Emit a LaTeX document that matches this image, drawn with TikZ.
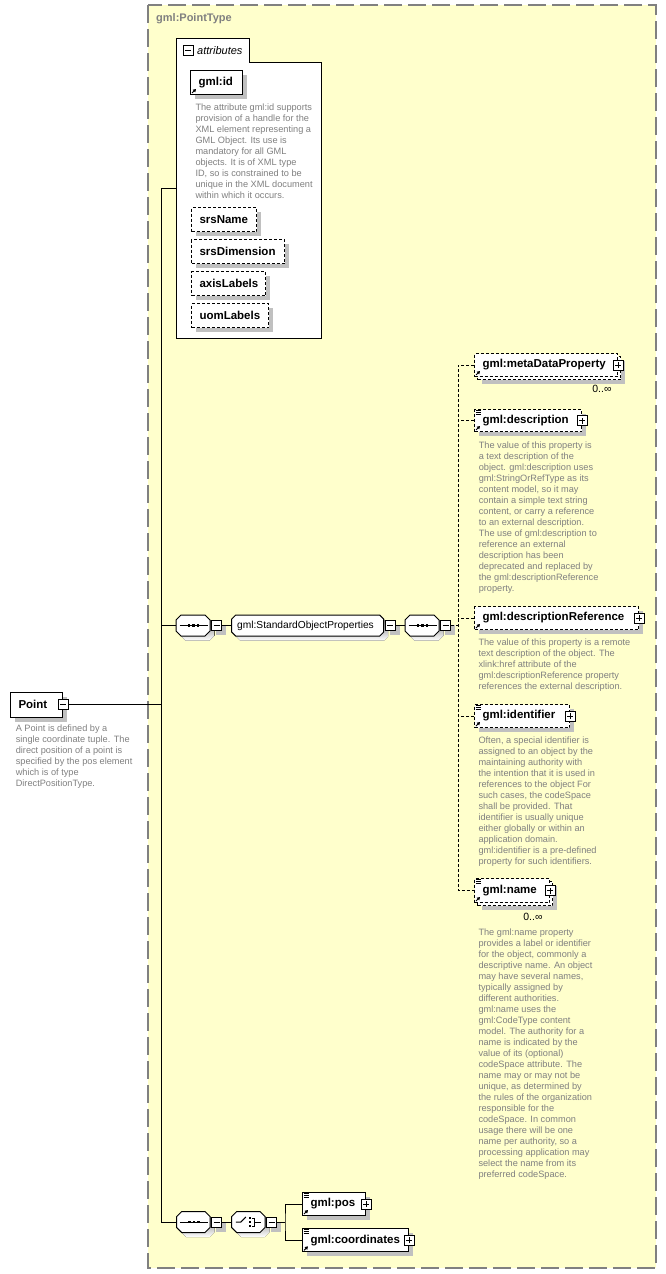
\documentclass[tikz,border=0pt]{standalone}
\usepackage{fontspec}
\setmainfont{Liberation Sans}
\usetikzlibrary{positioning}
\usetikzlibrary{shadows}
\usetikzlibrary{arrows.meta}
\definecolor{typefill}{RGB}{255,255,204}
\definecolor{typeline}{RGB}{128,128,128}
\definecolor{shade}{RGB}{192,192,192}
\definecolor{descgray}{RGB}{128,128,128}

\newcommand{\descfont}{\fontsize{9.2}{11}\selectfont}
\newcommand{\elemfont}{\fontsize{11.5}{13}\selectfont\bfseries}
\newcommand{\ppbc}{path picture bounding box.center}
% chamfered outline with shadow: x1, y1, x2, y2, chamfer
\newcommand{\chamfbox}[5]{%
  \fill[shade, shift={(4.5pt,-4.5pt)}] (#1+#5,#2) -- (#3-#5,#2) -- (#3,#2+#5) -- (#3,#4-#5)
      -- (#3-#5,#4) -- (#1+#5,#4) -- (#1,#4-#5) -- (#1,#2+#5) -- cycle;
  \draw[fill=white] (#1+#5,#2) -- (#3-#5,#2) -- (#3,#2+#5) -- (#3,#4-#5)
      -- (#3-#5,#4) -- (#1+#5,#4) -- (#1,#4-#5) -- (#1,#2+#5) -- cycle;}

\begin{document}
\begin{tikzpicture}[
            x = 1pt, y = -1pt, % pixel grid, y running down
            line width = 1pt,
            boxshadow/.style = {drop shadow={shadow xshift=4.5pt, shadow yshift=-4.5pt, fill=shade, opacity=1}},
            elembase/.style = {draw, fill=white, anchor=north west, inner xsep=8pt, inner ysep=0pt,
                minimum height=23pt, align=left, font=\elemfont},
            elem/.style = {elembase, boxshadow},
            optional/.style = {dash pattern=on 3pt off 2pt},
            desc/.style = {anchor=north west, inner sep=0pt, align=left, font=\descfont, text=descgray},
            mult/.style = {anchor=east, inner sep=0pt, font=\fontsize{10.5}{12}\selectfont},
            pmbox/.style = {draw, fill=white, minimum size=10pt, inner sep=0pt},
            minus/.style = {pmbox, path picture={
                \draw ([xshift=-3pt]\ppbc) -- ([xshift=3pt]\ppbc);}},
            plus/.style = {pmbox, path picture={
                \draw ([xshift=-3pt]\ppbc) -- ([xshift=3pt]\ppbc);
                \draw ([yshift=-3pt]\ppbc) -- ([yshift=3pt]\ppbc);}},
            compositor/.style = {rectangle, minimum width=34pt, minimum height=21pt, inner sep=0pt, anchor=west},
            groupref/.style = {rectangle, anchor=west, inner xsep=5pt, inner ysep=0pt, minimum height=21pt,
                text width=142pt, align=left, font=\fontsize{10.2}{12}\selectfont},
            refarrow/.style = {-{Triangle[length=3pt,width=3.5pt]}},
            typebox/.style = {draw=typeline, line width=2pt, dash pattern=on 18pt off 6pt, fill=typefill}
        ]
        \useasboundingbox (0,0) rectangle (666,1274);

        % complex type frame
        \draw[typebox] (148,5) rectangle (656,1268);
        \node[anchor=west, inner sep=0pt, text=typeline, font=\fontsize{11}{13}\selectfont\bfseries] (TypeLbl) at (155.7,19) {gml:PointType};
        \coordinate (trunk) at (161,0);
        \coordinate (chn) at (458,0);

        % global element
        \node[elem, text width=36pt, minimum height=24.5pt] (Pt) at (10,692) {Point};
        \node[minus] (PtM) at (Pt.east) {};
        \node[desc] (PtDoc) at (15.3,724.6) {A Point is defined by a\\ single coordinate tuple. The\\ direct position of a point is\\ specified by the pos element\\ which is of type\\ DirectPositionType.};

        % attributes
        \draw[fill=white] (176,38) -- (249,38) -- (249,62) -- (321.7,62) -- (321.7,338) -- (176,338) -- cycle;
        \node[inner sep=0pt, minimum width=145.7pt, minimum height=300pt, anchor=north west] (Attr) at (176,38) {};
        \node[minus] (AttrM) at (188.3,50.7) {};
        \node[anchor=west, inner sep=0pt, font=\fontsize{11}{13}\selectfont\itshape] (AttrLbl) at (196.7,51) {attributes};

        \node[elem, text width=36pt, minimum height=24pt] (Id) at (190,70) {gml:id};
        \node[desc] (IdDoc) at (195,103.6) {The attribute gml:id supports\\ provision of a handle for the\\ XML element representing a\\ GML Object. Its use is\\ mandatory for all GML\\ objects. It is of XML type\\ ID, so is constrained to be\\ unique in the XML document\\ within which it occurs.};
        \node[elem, optional, text width=49pt, minimum height=24pt] (SrsName) at (191,207) {srsName};
        \node[elem, optional, text width=77pt, minimum height=24pt] (SrsDim) at (191,239) {srsDimension};
        \node[elem, optional, text width=58pt, minimum height=24pt] (AxisLbl) at (191,271) {axisLabels};
        \node[elem, optional, text width=61pt, minimum height=24pt] (UomLbl) at (191,303) {uomLabels};

        % content model
        \chamfbox{176}{615}{210}{636}{5}
        \chamfbox{231.7}{615}{383.7}{636}{4}
        \chamfbox{405}{615}{439}{636}{5}
        \node[compositor] (Seq1) at (176,625.5) {};
        \node[minus, boxshadow, right=0pt of Seq1] (Seq1M) {};
        \node[groupref] (SOP) at (231.7,625.5) {gml:StandardObjectProperties};
        \node[minus, boxshadow, right=0pt of SOP] (SOPM) {};
        \node[compositor] (Seq2) at (405,625.5) {};
        \node[minus, boxshadow, right=0pt of Seq2] (Seq2M) {};

        \path (Seq1M) edge (SOP);
        \path (SOPM) edge (Seq2);

        % group members
        \node[elem, optional, text width=127pt] (MetaB) at (477,356) {};
        \node[elembase, optional, text width=127pt] (MetaF) at (474,353) {gml:metaDataProperty};
        \node[plus] (MetaP) at (MetaF.east) {};
        \node[mult] (MetaMult) at (612,389.3) {0..∞};

        \node[elem, optional, text width=91pt, minimum height=22pt] (DescE) at (474,409) {gml:description};
        \node[plus] (DescP) at (DescE.east) {};
        \node[desc] (DescDoc) at (478.3,441.3) {The value of this property is\\ a text description of the\\ object. gml:description uses\\ gml:StringOrRefType as its\\ content model, so it may\\ contain a simple text string\\ content, or carry a reference\\ to an external description.\\ The use of gml:description to\\ reference an external\\ description has been\\ deprecated and replaced by\\ the gml:descriptionReference\\ property.};

        \node[elem, optional, text width=148pt] (DescRefE) at (474,606) {gml:descriptionReference};
        \node[plus] (DescRefP) at (DescRefE.east) {};
        \node[desc] (DescRefDoc) at (478,638.6) {The value of this property is a remote\\ text description of the object. The\\ xlink:href attribute of the\\ gml:descriptionReference property\\ references the external description.};

        \node[elem, optional, text width=79pt] (IdentE) at (474,704) {gml:identifier};
        \node[plus] (IdentP) at (IdentE.east) {};
        \node[desc] (IdentDoc) at (478,736.3) {Often, a special identifier is\\ assigned to an object by the\\ maintaining authority with\\ the intention that it is used in\\ references to the object For\\ such cases, the codeSpace\\ shall be provided. That\\ identifier is usually unique\\ either globally or within an\\ application domain.\\ gml:identifier is a pre-defined\\ property for such identifiers.};

        \node[elem, optional, text width=59pt, minimum height=24pt] (NameB) at (477,881) {};
        \node[elembase, optional, text width=59pt, minimum height=24pt] (NameF) at (474,878) {gml:name};
        \node[plus] (NameP) at (NameF.east) {};
        \node[mult] (NameMult) at (543,916.7) {0..∞};
        \node[desc] (NameDoc) at (478,928.6) {The gml:name property\\ provides a label or identifier\\ for the object, commonly a\\ descriptive name. An object\\ may have several names,\\ typically assigned by\\ different authorities.\\ gml:name uses the\\ gml:CodeType content\\ model.  The authority for a\\ name is indicated by the\\ value of its (optional)\\ codeSpace attribute.  The\\ name may or may not be\\ unique, as determined by\\ the rules of the organization\\ responsible for the\\ codeSpace.  In common\\ usage there will be one\\ name per authority, so a\\ processing application may\\ select the name from its\\ preferred codeSpace.};

        \draw[optional] (Seq2M) -- (Seq2M -| chn);
        \draw[optional] (MetaF.west) -| (chn |- NameF.west) -- (NameF.west);
        \foreach \n in {DescE,DescRefE,IdentE}
            \draw[optional] (\n.west) -- (\n.west -| chn);

        % position choice
        \chamfbox{176.7}{1211.5}{210}{1232.5}{5}
        \chamfbox{231.7}{1211.5}{265}{1232.5}{5}
        \node[compositor, minimum width=33.3pt] (Seq3) at (176.7,1222) {};
        \node[minus, boxshadow, right=0pt of Seq3] (Seq3M) {};
        \node[compositor, minimum width=33.3pt] (Choice) at (231.7,1222) {};
        \node[minus, boxshadow, right=0pt of Choice] (ChoiceM) {};
        \coordinate (br) at (285,1222);

        \node[elem, text width=47pt] (Pos) at (302,1192) {gml:pos};
        \node[plus] (PosP) at (Pos.east) {};
        \node[elem, text width=90pt] (Coord) at (302,1228.3) {gml:coordinates};
        \node[plus] (CoordP) at (Coord.east) {};

        \path (Seq3M) edge (Choice);
        \draw (ChoiceM) -- (br);
        \draw (Pos.west) -| (br) |- (Coord.west);

        % trunk
        \draw (Attr.west) -| (trunk |- Seq3.west) -- (Seq3.west);
        \draw (PtM) -- (PtM -| trunk);
        \draw (Seq1) -- (Seq1 -| trunk);

        % compositor symbols
        \foreach \n in {Seq1,Seq2,Seq3} {
            \draw ([xshift=-14pt]\n.center) -- ([xshift=14pt]\n.center);
            \foreach \d in {-4.5,0,4.5}
                \fill ([xshift=\d pt-1.3pt, yshift=-1.3pt]\n.center) rectangle ++(2.6pt,2.6pt);
        }
        \draw ([xshift=-13pt]Choice.center) -- ([xshift=-8pt]Choice.center) -- ([xshift=-3pt,yshift=5pt]Choice.center);
        \foreach \d in {-4,0,4}
            \fill ([xshift=-0.1pt, yshift=\d pt-1.1pt]Choice.center) rectangle ++(2.2pt,2.2pt);
        \draw ([xshift=3pt,yshift=4pt]Choice.center) -- ([xshift=6pt,yshift=4pt]Choice.center)
            -- ([xshift=6pt,yshift=-4pt]Choice.center) -- ([xshift=3pt,yshift=-4pt]Choice.center);
        \draw ([xshift=6pt]Choice.center) -- ([xshift=12pt]Choice.center);

        % icons
        \foreach \n in {Id,MetaF,DescE,DescRefE,IdentE,NameF,Pos,Coord}
            \draw[refarrow] ([shift={(2pt,2pt)}]\n.south west) -- ++(4pt,4pt);
        \foreach \n in {DescE,IdentE,NameF,Pos,Coord}
            \foreach \k in {1.5,3.5,5.5}
                \draw[line width=0.8pt] ([xshift=1.5pt,yshift=-\k pt]\n.north west) -- ++(5pt,0pt);

  \end{tikzpicture}
\end{document}
